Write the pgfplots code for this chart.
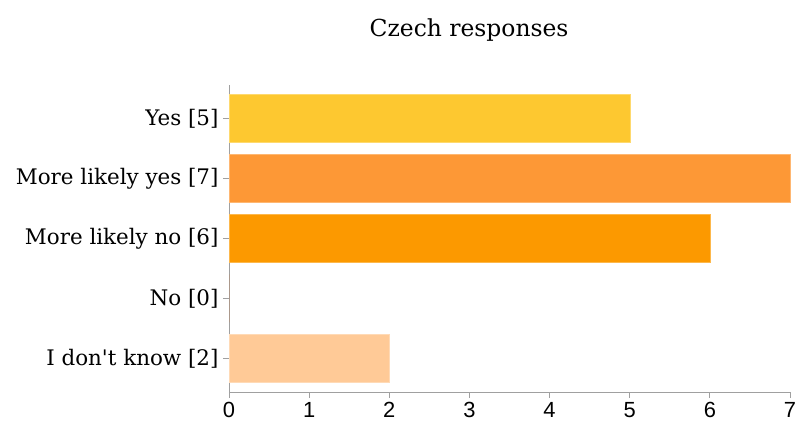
\documentclass[border=0pt]{standalone}
\usepackage{pgfplots}
\pgfplotsset{compat=1.18}
\usepackage{fontspec}
\setmainfont{DejaVu Serif}
\newfontfamily\ticksans{Liberation Sans}
\definecolor{cyes}{HTML}{FDC830}
\definecolor{cmly}{HTML}{FD9836}
\definecolor{cmln}{HTML}{FC9900}
\definecolor{cno}{HTML}{FF6600}
\definecolor{cidk}{HTML}{FFCA97}
\definecolor{axgray}{HTML}{A0A0A0}
\begin{document}
\begin{tikzpicture}[x=1bp,y=1bp]
  \begin{axis}[
      scale only axis,
      width=561bp, height=307bp,
      xbar, bar shift=0pt, bar width=0.8,
      y dir=reverse,
      xmin=0, xmax=7,
      ymin=-0.56, ymax=4.56,
      xtick={0,...,7},
      ytick={0,1,2,3,4},
      yticklabels={Yes [5],More likely yes [7],More likely no [6],No [0],I don\textquotesingle t know [2]},
      axis lines*=left,
      axis line style={axgray, line width=0.9bp},
      tick style={axgray, line width=0.8bp},
      tick align=outside,
      major tick length=6bp,
      xticklabel style={font=\fontsize{22}{24}\selectfont\ticksans, yshift=-1bp},
      yticklabel style={font=\fontsize{21.5}{24}\selectfont, xshift=-1bp},
      /pgf/number format/assume math mode=true,
      title={Czech responses},
      title style={font=\fontsize{23.5}{26}\selectfont, at={(0.428,1)}, anchor=base, yshift=43bp},
      clip=false,
    ]
    \addplot[fill=cyes, draw=cyes!70!white] coordinates {(5,0)};
    \addplot[fill=cmly, draw=cmly!70!white] coordinates {(7,1)};
    \addplot[fill=cmln, draw=cmln!70!white] coordinates {(6,2)};
    \addplot[fill=cno, draw=none] coordinates {(0,3)};
    \addplot[fill=cidk, draw=cidk!70!white] coordinates {(2,4)};
  \end{axis}
  \pgfresetboundingbox
  \path (current axis.south west) ++(-229bp,-32bp) rectangle ++(798bp,424bp);
\end{tikzpicture}
\end{document}
